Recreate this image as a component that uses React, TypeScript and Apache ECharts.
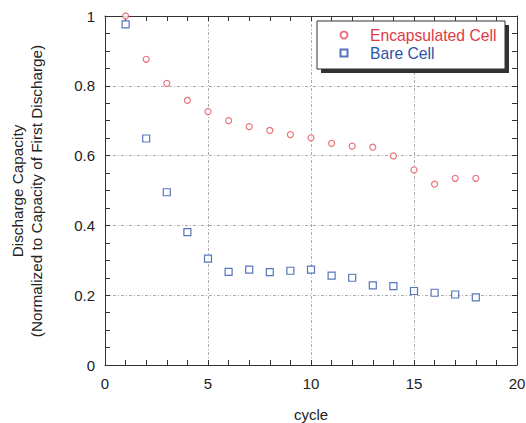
import React, { useEffect, useRef } from "react";
import * as echarts from "echarts";

const cycles = [1, 2, 3, 4, 5, 6, 7, 8, 9, 10, 11, 12, 13, 14, 15, 16, 17, 18];
const encapsulated = [1.0, 0.876, 0.807, 0.758, 0.726, 0.7, 0.683, 0.672, 0.66, 0.651, 0.635, 0.627, 0.624, 0.599, 0.559, 0.518, 0.535, 0.535];
const bare = [0.976, 0.649, 0.495, 0.381, 0.305, 0.267, 0.273, 0.266, 0.27, 0.273, 0.256, 0.25, 0.228, 0.226, 0.212, 0.207, 0.202, 0.194];
const seriesNames = ["Encapsulated Cell", "Bare Cell"];
const xName = "cycle";
const yNameLines = ["Discharge Capacity", "(Normalized to Capacity of First Discharge)"];

const FONT = "'Liberation Sans', Arial, Helvetica, sans-serif";
const RED = "#e4505a";
const BLUE = "#2d52aa";
const AXIS = "#333";

export default function App() {
  const ref = useRef<HTMLDivElement>(null);
  useEffect(() => {
    if (!ref.current) return;
    const chart = echarts.init(ref.current, undefined, { renderer: "svg" });
    const tickCommon = { show: true, inside: true, length: 5, lineStyle: { color: AXIS, width: 1 } };
    const minorCommon = { show: true, length: 5, lineStyle: { color: AXIS, width: 1 } };
    const split = { show: true, lineStyle: { color: "#aaa", type: [3, 2, 1, 2], width: 1 } };
    chart.setOption({
      animation: false,
      backgroundColor: "#fff",
      textStyle: { fontFamily: FONT },
      grid: { left: 105, right: 9, top: 16, bottom: 58, show: false, containLabel: false, outerBoundsMode: "none" },
      xAxis: [
        {
          type: "value", min: 0, max: 20, interval: 5, position: "bottom",
          name: xName, nameLocation: "middle", nameGap: 42,
          nameTextStyle: { fontSize: 15, color: "#222", fontFamily: FONT, lineHeight: 15 },
          axisLine: { show: true, onZero: false, lineStyle: { color: AXIS, width: 1 } },
          axisTick: tickCommon,
          minorTick: { ...minorCommon, splitNumber: 5 },
          axisLabel: { fontSize: 15, color: "#222", margin: 11, fontFamily: FONT },
          splitLine: split,
        },
        {
          type: "value", min: 0, max: 20, interval: 5, position: "top",
          axisLine: { show: true, onZero: false, lineStyle: { color: AXIS, width: 1 } },
          axisTick: tickCommon,
          minorTick: { ...minorCommon, splitNumber: 5 },
          axisLabel: { show: false },
          splitLine: { show: false },
        },
      ],
      yAxis: [
        {
          type: "value", min: 0, max: 1, interval: 0.2, position: "left",
          axisLine: { show: true, onZero: false, lineStyle: { color: AXIS, width: 1 } },
          axisTick: tickCommon,
          minorTick: { ...minorCommon, splitNumber: 4 },
          axisLabel: { fontSize: 15, color: "#222", margin: 10, fontFamily: FONT },
          splitLine: split,
        },
        {
          type: "value", min: 0, max: 1, interval: 0.2, position: "right",
          axisLine: { show: true, onZero: false, lineStyle: { color: AXIS, width: 1 } },
          axisTick: tickCommon,
          minorTick: { ...minorCommon, splitNumber: 4 },
          axisLabel: { show: false },
          splitLine: { show: false },
        },
      ],
      legend: {
        orient: "vertical",
        left: 339.5,
        top: 26.5,
        padding: 0,
        itemWidth: 7,
        itemHeight: 7,
        itemGap: 1,
        z: 20,
        data: [
          { name: seriesNames[0], textStyle: { color: "#e03a46" } },
          { name: seriesNames[1], textStyle: { color: "#2d52aa" } },
        ],
        textStyle: { fontSize: 15.7, fontFamily: FONT, lineHeight: 17, padding: [0, 0, 0, 17.5] },
      },
      graphic: [
        { type: "rect", z: 15, shape: { x: 321, y: 25, width: 188, height: 48 }, style: { fill: "#333" } },
        { type: "rect", z: 16, shape: { x: 317, y: 21, width: 188, height: 48 }, style: { fill: "#fff", stroke: "#333", lineWidth: 1 } },
        {
          type: "text", z: 20, x: 27, y: 191, rotation: Math.PI / 2,
          style: {
            text: yNameLines.join("\n"), fontSize: 15.3, fontFamily: FONT, fill: "#222",
            align: "center", verticalAlign: "middle", lineHeight: 19,
          },
        },
      ],
      series: [
        {
          name: seriesNames[0], type: "scatter", symbol: "circle", symbolSize: 6,
          data: cycles.map((c, i) => [c, encapsulated[i]]),
          itemStyle: { color: "#fff", borderColor: RED, borderWidth: 1.2 },
          z: 3,
        },
        {
          name: seriesNames[1], type: "scatter", symbol: "rect", symbolSize: 7,
          data: cycles.map((c, i) => [c, bare[i]]),
          itemStyle: { color: "#fff", borderColor: BLUE, borderWidth: 1.2 },
          z: 3,
        },
      ],
    } as any);
    return () => chart.dispose();
  }, []);
  return <div ref={ref} style={{ width: 526, height: 423, position: "absolute", left: 0, top: 0 }} />;
}
